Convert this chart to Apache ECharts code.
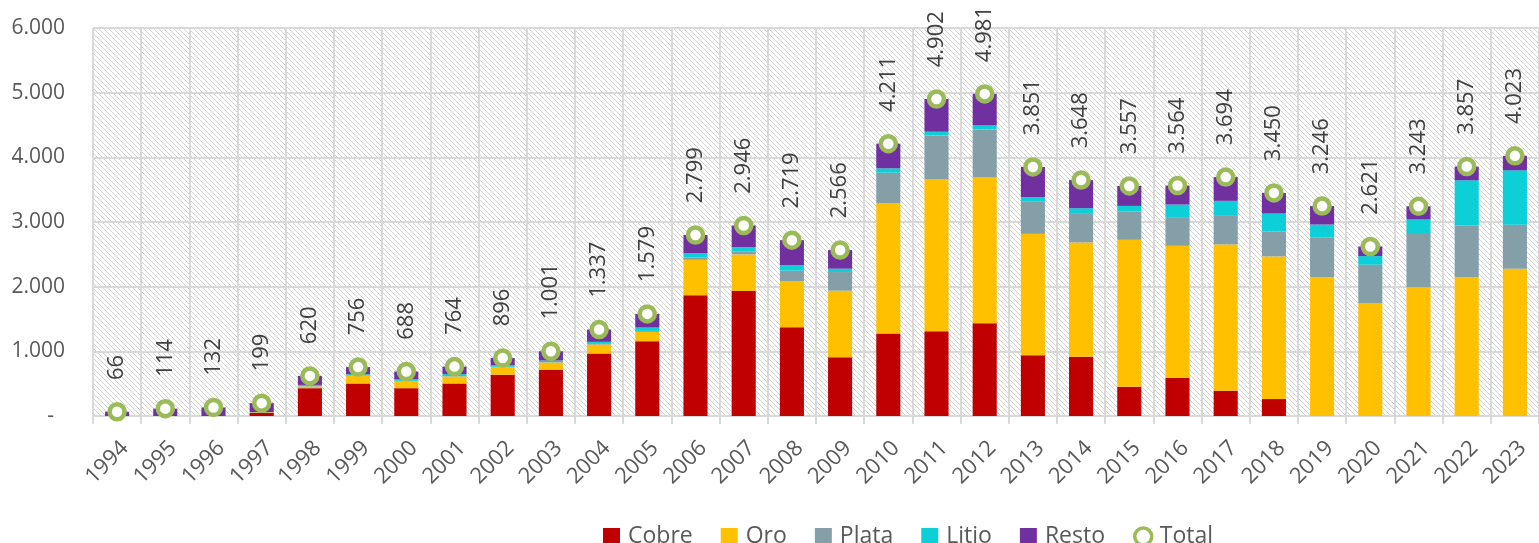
<!DOCTYPE html>
<html>
<head>
<meta charset="utf-8">
<title>Exportaciones</title>
<script src="https://cdn.jsdelivr.net/npm/echarts@6/dist/echarts.min.js"></script>
<style>
    html, body { margin: 0; padding: 0; background: #fff; }
    #main { width: 1539px; height: 543px; }
</style>
</head>
<body>
<div id="main"></div>
<script>
/* datos */
var years = ['1994','1995','1996','1997','1998','1999','2000','2001','2002','2003',
             '2004','2005','2006','2007','2008','2009','2010','2011','2012','2013',
             '2014','2015','2016','2017','2018','2019','2020','2021','2022','2023'];
var cobre = [0, 0, 0, 50, 430, 503, 430, 503, 637, 715,
             967, 1157, 1866, 1933, 1373, 910, 1275, 1311, 1434, 941,
             915, 452, 591, 391, 262, 0, 0, 0, 0, 0];
var oro   = [0, 0, 0, 8, 26, 119, 109, 108, 119, 113,
             138, 144, 550, 566, 714, 1028, 2015, 2345, 2263, 1876,
             1769, 2273, 2041, 2262, 2206, 2144, 1748, 1990, 2144, 2278];
var plata = [0, 0, 0, 0, 5, 5, 5, 5, 5, 5,
             10, 15, 36, 46, 160, 288, 473, 683, 735, 504,
             442, 437, 443, 442, 385, 622, 591, 838, 802, 678];
var litio = [0, 0, 0, 3, 20, 20, 26, 32, 26, 26,
             32, 52, 67, 67, 87, 52, 67, 57, 62, 62,
             87, 87, 195, 232, 278, 195, 134, 211, 699, 843];
var resto = [66, 114, 132, 138, 139, 109, 118, 116, 109, 142,
             190, 211, 280, 334, 385, 288, 381, 506, 487, 468,
             435, 308, 294, 367, 319, 285, 148, 204, 212, 224];
var total = [66, 114, 132, 199, 620, 756, 688, 764, 896, 1001,
             1337, 1579, 2799, 2946, 2719, 2566, 4211, 4902, 4981, 3851,
             3648, 3557, 3564, 3694, 3450, 3246, 2621, 3243, 3857, 4023];
var yTicks = [0, 1000, 2000, 3000, 4000, 5000, 6000];

(function () {
    'use strict';
    var FONT = '"Open Sans", "DejaVu Sans", sans-serif';
    var TXT = '#595959';
    var GRID = '#d9d9d9';
    var RING = { color: '#ffffff', borderColor: '#9bbb59', borderWidth: 4.5, opacity: 1 };

    /* miles con punto */
    function fmt(v) {
        return String(v).replace(/\B(?=(\d{3})+(?!\d))/g, '.');
    }

    /* fondo rayado */
    function makeHatch() {
        var c = document.createElement('canvas');
        c.width = 5; c.height = 5;
        var ctx = c.getContext('2d');
        ctx.fillStyle = '#ffffff';
        ctx.fillRect(0, 0, 5, 5);
        ctx.fillStyle = '#d2d2d2';
        for (var i = 0; i < 5; i++) { ctx.fillRect(i, i, 1, 1); }
        return c;
    }

    function barSeries(name, data, color) {
        return {
            name: name, type: 'bar', stack: 'x', data: data,
            barWidth: '50%',
            itemStyle: { color: color },
            emphasis: { disabled: true }
        };
    }

    var chart = echarts.init(document.getElementById('main'), null, { renderer: 'canvas' });
    chart.setOption({
        animation: false,
        textStyle: { fontFamily: FONT },
        grid: {
            left: 93, right: 0, top: 28, bottom: 127,
            show: true, borderWidth: 0,
            backgroundColor: { image: makeHatch(), repeat: 'repeat' }
        },
        legend: {
            left: 598, top: 520,
            itemWidth: 17, itemHeight: 17, itemGap: 28,
            textStyle: { fontFamily: FONT, fontSize: 23, color: TXT, padding: [0, 0, 0, 3] },
            data: [
                { name: 'Cobre', icon: 'rect' },
                { name: 'Oro', icon: 'rect' },
                { name: 'Plata', icon: 'rect' },
                { name: 'Litio', icon: 'rect' },
                { name: 'Resto', icon: 'rect' },
                { name: 'Total', icon: 'circle',
                  itemStyle: { color: '#ffffff', borderColor: '#9bbb59', borderWidth: 3.5 } }
            ]
        },
        xAxis: {
            type: 'category', data: years,
            axisLine: { lineStyle: { color: GRID, width: 2 } },
            axisTick: { show: true, length: 8, lineStyle: { color: GRID, width: 2 } },
            splitLine: { show: true, lineStyle: { color: GRID, width: 2 } },
            axisLabel: {
                rotate: 45, fontSize: 22, color: TXT, margin: 21, fontFamily: FONT,
                verticalAlign: 'top'
            }
        },
        yAxis: {
            type: 'value', min: yTicks[0], max: yTicks[yTicks.length - 1], interval: 1000,
            axisLine: { show: false },
            axisTick: { show: false },
            splitLine: { lineStyle: { color: GRID, width: 2 } },
            axisLabel: {
                fontSize: 21, color: TXT, margin: 28, fontFamily: FONT,
                formatter: function (v) { return v === 0 ? '-  ' : fmt(v); }
            }
        },
        series: [
            barSeries('Cobre', cobre, '#c00000'),
            barSeries('Oro', oro, '#ffc000'),
            barSeries('Plata', plata, '#849fa8'),
            barSeries('Litio', litio, '#0dcfd8'),
            barSeries('Resto', resto, '#7030a0'),
            {
                name: 'Total', type: 'scatter', data: total,
                symbol: 'circle', symbolSize: 15, z: 5,
                itemStyle: RING,
                label: {
                    show: true, position: 'top', distance: 22, rotate: 90,
                    align: 'left', verticalAlign: 'middle',
                    fontSize: 22, color: '#404040', fontFamily: FONT,
                    formatter: function (p) { return fmt(p.value); }
                },
                emphasis: { disabled: true }
            }
        ]
    });
})();
</script>
</body>
</html>
